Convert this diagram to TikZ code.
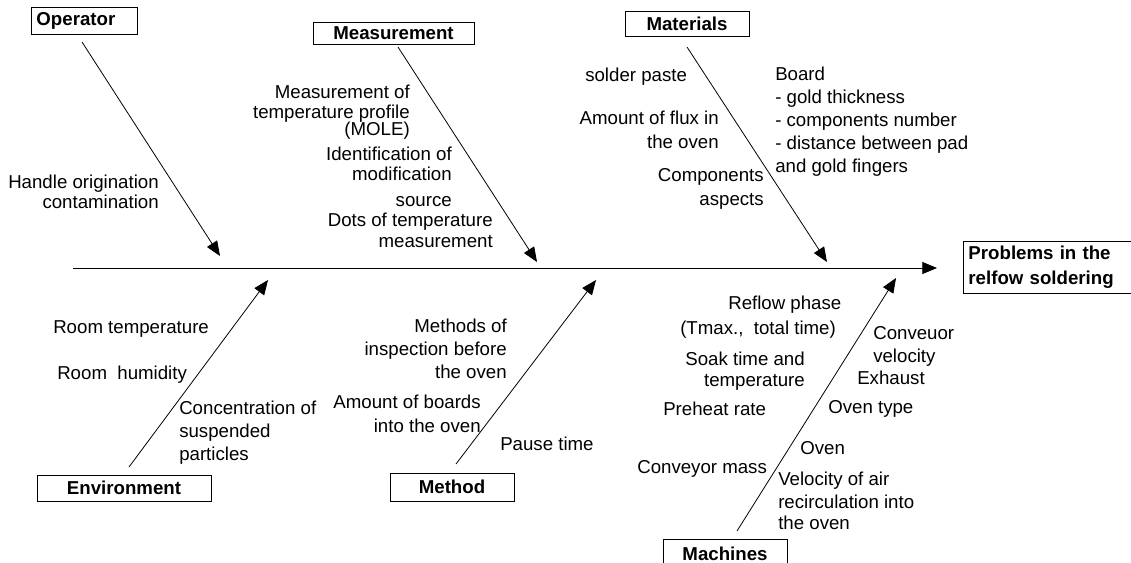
\documentclass[tikz,border=0pt]{standalone}
\usepackage{fontspec}
\setmainfont{Liberation Sans}
\usetikzlibrary{arrows.meta}
\tikzset{
  lbl/.style={inner sep=0pt, font=\fontsize{14pt}{17.25pt}\selectfont},
  catbox/.style={draw, line width=0.7pt, inner sep=0pt, font=\fontsize{14pt}{17.25pt}\selectfont\bfseries},
  arr/.style={line width=0.6pt, -{Triangle[length=11pt,width=9pt]}},
}
\begin{document}
\begin{tikzpicture}[x=0.75pt,y=-0.75pt]
\useasboundingbox (0,0) rectangle (1131,563);

% category boxes
\node[catbox, anchor=west, inner xsep=3.75pt, text width=72pt, align=left, minimum height=20.25pt] (op) at (31,20.5) {Operator};
\node[catbox, minimum width=120.75pt, minimum height=16.5pt] (me) at (393.5,33) {Measurement};
\node[catbox, minimum width=93pt, minimum height=18.75pt] (ma) at (687,23.5) {Materials};
\node[catbox, minimum width=130.5pt, minimum height=19.5pt] (en) at (124,488) {Environment};
\node[catbox, minimum width=93pt, minimum height=21pt] (mt) at (452,487) {Method};
\node[catbox, minimum width=93pt, minimum height=21.75pt] (mc) at (725,553.5) {Machines};
\node[catbox, anchor=north west, inner xsep=3.75pt, text width=135pt, align=left, minimum height=39pt,
      font=\fontsize{14pt}{18.75pt}\selectfont\bfseries] (pr) at (963,241) {Problems in the\\relfow soldering};

% arrow end points
\coordinate (spS) at (73,268);
\coordinate (spE) at (937,268);
\coordinate (opS) at (82,42);
\coordinate (opE) at (220,256);
\coordinate (meS) at (398,47);
\coordinate (meE) at (537,262);
\coordinate (maS) at (687,47);
\coordinate (maE) at (827,262);
\coordinate (enS) at (129,467);
\coordinate (enE) at (268,280);
\coordinate (mtS) at (456,464);
\coordinate (mtE) at (596,280);
\coordinate (mcS) at (737,531);
\coordinate (mcE) at (896,278);

\draw[arr] (spS) -- (spE);
\draw[arr] (opS) -- (opE);
\draw[arr] (meS) -- (meE);
\draw[arr] (maS) -- (maE);
\draw[arr] (enS) -- (enE);
\draw[arr] (mtS) -- (mtE);
\draw[arr] (mcS) -- (mcE);

% Operator
\node[lbl, anchor=north east, align=right] (t1) at (159,175) {Handle origination\\[-2.25pt]contamination};

% Measurement
\node[lbl, anchor=north east, align=right] (t2) at (410,85) {Measurement of\\[-2.5pt]temperature profile\\[-4.5pt](MOLE)};
\node[lbl, anchor=north east, align=right] (t3) at (452,147) {Identification of\\[-2.25pt]modification\\[2.25pt]source};
\node[lbl, anchor=north east, align=right] (t4) at (493,213) {Dots of temperature\\[-1.5pt]measurement};

% Materials
\node[lbl, anchor=north west] (t5) at (585,68) {solder paste};
\node[lbl, anchor=north east, align=right] (t6) at (719,111) {Amount of flux in\\[0.75pt]the oven};
\node[lbl, anchor=north east, align=right] (t7) at (764,168) {Components\\[0.75pt]aspects};
\node[lbl, anchor=north west, align=left] (t8) at (775,67) {Board\\- gold thickness\\- components number\\- distance between pad\\and gold fingers};

% Environment
\node[lbl, anchor=north west] (t9) at (53,320) {Room temperature};
\node[lbl, anchor=north west] (t10) at (57,366) {Room\ \ humidity};
\node[lbl, anchor=north west, align=left] (t11) at (179,401) {Concentration of\\suspended\\particles};

% Method
\node[lbl, anchor=north east, align=right] (t12) at (507,319) {Methods of\\inspection before\\the oven};
\node[lbl, anchor=north east, align=right] (t13) at (481,395) {Amount of boards\\[0.75pt]into the oven};
\node[lbl, anchor=north west] (t14) at (500,437) {Pause time};

% Machines
\node[lbl, anchor=north west] (t15) at (728,296) {Reflow phase};
\node[lbl, anchor=north west] (t16) at (680,321) {(Tmax.,\ \ total time)};
\node[lbl, anchor=north east, align=right] (t17) at (805,352) {Soak time and\\[-1.5pt]temperature};
\node[lbl, anchor=north west] (t18) at (663,402) {Preheat rate};
\node[lbl, anchor=north west] (t19) at (637,460) {Conveyor mass};
\node[lbl, anchor=north west, align=left] (t20) at (873,326) {Conveuor\\velocity};
\node[lbl, anchor=north west] (t21) at (857,371) {Exhaust};
\node[lbl, anchor=north west] (t22) at (828,400) {Oven type};
\node[lbl, anchor=north west] (t23) at (800,441) {Oven};
\node[lbl, anchor=north west, align=left] (t24) at (778,472) {Velocity of air\\recirculation into\\[-1.5pt]the oven};
\end{tikzpicture}
\end{document}
